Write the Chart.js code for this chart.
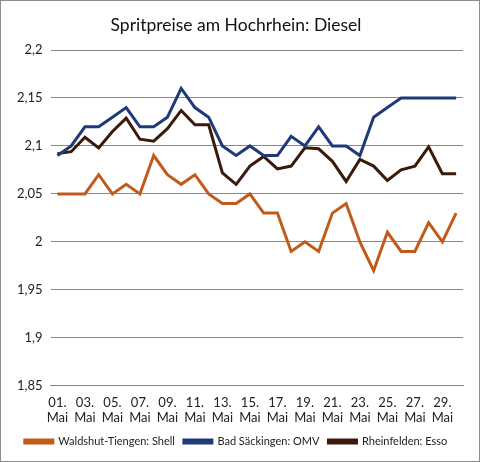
<!DOCTYPE html>
<html>
<head>
<meta charset="utf-8">
<script src="https://cdn.jsdelivr.net/npm/chart.js@4.4.1/dist/chart.umd.min.js"></script>
<style>
  html, body { margin: 0; padding: 0; background: #fff; }
  #wrap { width: 480px; height: 462px; box-sizing: border-box; border: 1px solid #8c8c8c; }
</style>
</head>
<body>
<div id="wrap"><canvas id="fuel-chart" width="478" height="460"></canvas></div>
<script>
"use strict"

// days of May, 01. to 30.
const days = [
  "01.", "02.", "03.", "04.", "05.", "06.", "07.", "08.", "09.", "10.",
  "11.", "12.", "13.", "14.", "15.", "16.", "17.", "18.", "19.", "20.",
  "21.", "22.", "23.", "24.", "25.", "26.", "27.", "28.", "29.", "30."
];

const shell = [
  2.05, 2.05, 2.05, 2.07, 2.05, 2.06, 2.05, 2.09, 2.07, 2.06,
  2.07, 2.05, 2.04, 2.04, 2.05, 2.03, 2.03, 1.99, 2.00, 1.99,
  2.03, 2.04, 2.00, 1.97, 2.01, 1.99, 1.99, 2.02, 2.00, 2.03
];

const omv = [
  2.09, 2.10, 2.12, 2.12, 2.13, 2.14, 2.12, 2.12, 2.13, 2.16,
  2.14, 2.13, 2.10, 2.09, 2.10, 2.09, 2.09, 2.11, 2.10, 2.12,
  2.10, 2.10, 2.09, 2.13, 2.14, 2.15, 2.15, 2.15, 2.15, 2.15
];

const esso = [
  2.092, 2.094, 2.109, 2.098, 2.115, 2.129, 2.107, 2.105, 2.118, 2.137,
  2.122, 2.122, 2.072, 2.060, 2.079, 2.089, 2.076, 2.079, 2.098, 2.097,
  2.084, 2.063, 2.086, 2.079, 2.064, 2.075, 2.079, 2.099, 2.071, 2.071
];

const seriesNames = ["Waldshut-Tiengen: Shell", "Bad Säckingen: OMV", "Rheinfelden: Esso"];
const yTicks = [1.85, 1.9, 1.95, 2, 2.05, 2.1, 2.15, 2.2];

const font = "Lato";

function line(label, data, color) {
  return {
    label: label,
    data: data,
    borderColor: color,
    backgroundColor: color,
    borderWidth: 3,
    pointRadius: 0,
    tension: 0,
  };
}

new Chart(document.getElementById("fuel-chart"), {
  type: "line",
  data: {
    labels: days,
    datasets: [
      line(seriesNames[0], shell, "#c15b1c"),
      line(seriesNames[1], omv, "#1f3a7a"),
      line(seriesNames[2], esso, "#3a1a0b"),
    ],
  },
  options: {
    responsive: false,
    animation: false,
    layout: { padding: { left: 8, right: 16, top: 2, bottom: 4 } },
    plugins: {
      title: {
        display: true,
        text: "Spritpreise am Hochrhein: Diesel",
        color: "#111",
        font: { family: font, size: 17.5, weight: "normal" },
        padding: { top: 12, bottom: 14 },
      },
      legend: {
        position: "bottom",
        labels: {
          color: "#222",
          font: { family: font, size: 11 },
          boxWidth: 28,
          boxHeight: 3,
          padding: 9,
        },
      },
    },
    scales: {
      x: {
        offset: true,
        grid: { display: false },
        border: { color: "#808080" },
        ticks: {
          color: "#222",
          padding: 1,
          font: { family: font, size: 13 },
          maxRotation: 0,
          autoSkip: false,
          callback: function (value, index) {
            if (index % 2 !== 0) return "";
            return [days[index], "Mai"];
          },
        },
      },
      y: {
        min: 1.85,
        max: 2.2,
        afterBuildTicks: function (axis) {
          axis.ticks = yTicks.map(function (v) { return { value: v }; });
        },
        grid: { color: "#8a8a8a", drawTicks: false },
        border: { display: false },
        ticks: {
          color: "#222",
          padding: 8,
          font: { family: font, size: 13 },
          callback: function (value) {
            return String(Math.round(value * 100) / 100).replace(".", ",");
          },
        },
      },
    },
  },
});
</script>
</body>
</html>
